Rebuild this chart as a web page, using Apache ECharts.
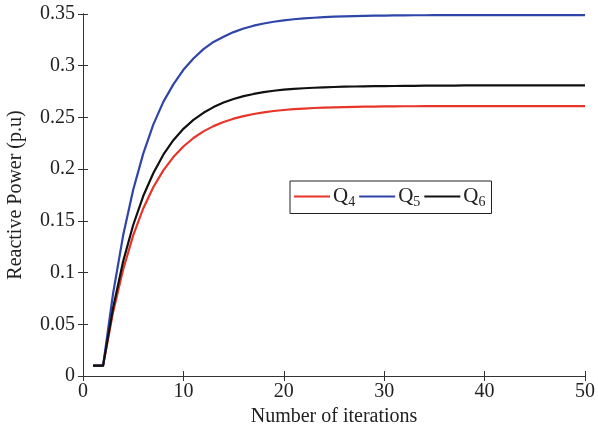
<!DOCTYPE html>
<html><head><meta charset="utf-8">
<script src="https://cdn.jsdelivr.net/npm/echarts@6/dist/echarts.min.js"></script>
<style>html,body{margin:0;padding:0;background:#fff}#c{width:598px;height:430px}</style>
</head><body><div id="c"></div>
<script>
const iterations = Array.from({length:50},(_, i)=>i+1);
const q4 = [0.01,0.01,0.062,0.103,0.136,0.162,0.1825,0.1988,0.2117,0.2219,
0.2301,0.2365,0.2416,0.2456,0.2488,0.2513,0.2533,0.2549,0.2562,0.2572,
0.258,0.2586,0.2591,0.2595,0.2598,0.26,0.2602,0.2604,0.2605,0.2606,
0.2607,0.2608,0.2608,0.2609,0.2609,0.2609,0.261,0.261,0.261,0.261,
0.261,0.261,0.261,0.261,0.261,0.261,0.261,0.261,0.261,0.261];
const q5 = [0.01,0.01,0.080,0.136,0.180,0.215,0.243,0.265,0.282,0.296,
0.307,0.316,0.323,0.328,0.3325,0.336,0.3387,0.3408,0.3425,0.3438,
0.3449,0.3458,0.3464,0.347,0.3474,0.3477,0.348,0.3482,0.3484,0.3485,
0.3486,0.3487,0.3488,0.3488,0.3489,0.3489,0.3489,0.349,0.349,0.349,
0.349,0.349,0.349,0.349,0.349,0.349,0.349,0.349,0.349,0.349];
const q6 = [0.01,0.01,0.066,0.111,0.146,0.174,0.196,0.214,0.228,0.239,
0.2476,0.2545,0.26,0.2644,0.2678,0.2706,0.2727,0.2744,0.2758,0.2768,
0.2776,0.2782,0.2787,0.2791,0.2794,0.2797,0.2799,0.2801,0.2802,0.2803,
0.2804,0.2805,0.2806,0.2807,0.2807,0.2808,0.2808,0.2809,0.2809,0.2809,
0.281,0.281,0.281,0.281,0.281,0.281,0.281,0.281,0.281,0.281];
const seriesNames = ['Q4','Q5','Q6'];
const colors = ['#e8352a','#2f45a8','#111111'];
const xTicks = [0,10,20,30,40,50];
const yTicks = [0,0.05,0.1,0.15,0.2,0.25,0.3,0.35];

const font = 'Liberation Serif';
const axisCol = '#333';
const chart = echarts.init(document.getElementById('c'));
const mk = (arr) => iterations.map((x,i)=>[x,arr[i]]);
const datas = [q4,q5,q6];
chart.setOption({
  animation:false,
  grid:{left:83,right:13,top:14,bottom:54,containLabel:false,outerBoundsMode:'none'},
  legend:{
    left:290, top:181, width:203, height:34,
    orient:'horizontal',
    padding:[5,6,4,4],
    itemGap:4,
    itemWidth:36, itemHeight:2,
    icon:'rect',
    borderColor:'#222', borderWidth:1, backgroundColor:'#fff',
    data:seriesNames,
    formatter:(n)=>'{q|Q}{s|'+n.slice(1)+'}',
    textStyle:{padding:[0,0,0,-2],
      rich:{
        q:{fontFamily:font,fontSize:21,color:'#222'},
        s:{fontFamily:font,fontSize:14,color:'#222',padding:[12,0,0,0]}
      }
    }
  },
  xAxis:[{
    type:'value',min:0,max:50,interval:10,
    name:'Number of iterations',nameLocation:'middle',nameGap:29,
    nameTextStyle:{fontFamily:font,fontSize:20,color:'#222'},
    axisLine:{show:true,lineStyle:{color:axisCol,width:1}},
    axisTick:{show:true,inside:true,length:5,lineStyle:{color:axisCol}},
    axisLabel:{fontFamily:font,fontSize:20,color:'#222',margin:6,formatter:v=>xTicks.includes(v)?String(v):''},
    splitLine:{show:false}
  },{
    type:'value',min:0,max:50,interval:10,position:'top',
    axisLine:{show:true,lineStyle:{color:axisCol,width:1}},
    axisTick:{show:true,inside:true,length:5,lineStyle:{color:axisCol}},
    axisLabel:{show:false},splitLine:{show:false}
  }],
  yAxis:[{
    type:'value',min:0,max:0.35,interval:0.05,
    name:'Reactive Power (p.u)',nameLocation:'middle',nameGap:57,
    nameTextStyle:{fontFamily:font,fontSize:20,color:'#222'},
    axisLine:{show:true,lineStyle:{color:axisCol,width:1}},
    axisTick:{show:true,inside:true,length:5,lineStyle:{color:axisCol}},
    axisLabel:{fontFamily:font,fontSize:20,color:'#222',margin:8,
      formatter:v=>{const t=yTicks.find(k=>Math.abs(k-v)<1e-9);return t===undefined?'':String(+t.toFixed(2));}},
    splitLine:{show:false}
  },{
    type:'value',min:0,max:0.35,interval:0.05,position:'right',
    axisLine:{show:true,lineStyle:{color:axisCol,width:1}},
    axisTick:{show:true,inside:true,length:5,lineStyle:{color:axisCol}},
    axisLabel:{show:false},splitLine:{show:false}
  }],
  series:seriesNames.map((n,i)=>({
    name:n,type:'line',data:mk(datas[i]),showSymbol:false,symbol:'none',
    smooth:false,lineStyle:{color:colors[i],width:2.2,join:'round'},itemStyle:{color:colors[i]},
    z:[2,3,4][i]
  }))
});
</script></body></html>
